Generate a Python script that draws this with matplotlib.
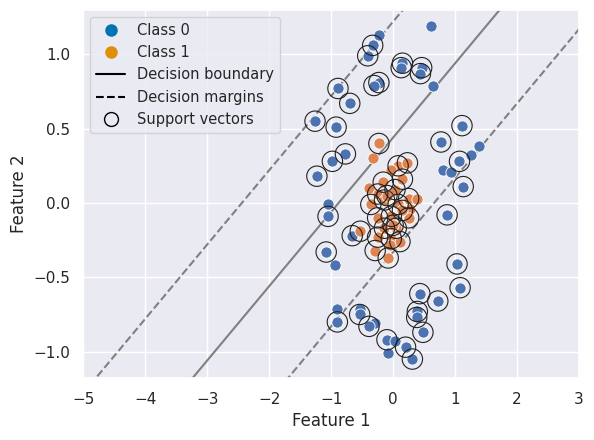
import matplotlib
matplotlib.use("Agg")
import matplotlib.pyplot as plt
import seaborn as sns
import numpy as np
from matplotlib.lines import Line2D

sns.set_theme(style="darkgrid")

# class 0: x, y, is_support_vector
c0_x = [0.61,-0.23,-0.33,-0.41,0.15,0.13,0.46,0.44,-0.23,-0.31,0.64,-0.89,-0.70,-1.26,-0.92,1.11,0.77,1.39,1.25,1.07,0.80,0.93,1.13,-0.77,-0.98,-1.23,-1.05,-1.05,0.87,-0.66,-1.08,-0.93,1.03,1.08,0.43,0.72,-0.90,-0.90,-0.54,-0.54,-0.30,-0.39,0.39,0.38,0.48,-0.10,0.03,0.20,0.31,-0.08]
c0_y = [1.19,1.13,1.06,0.99,0.94,0.91,0.91,0.87,0.81,0.79,0.79,0.77,0.67,0.55,0.51,0.52,0.41,0.38,0.32,0.28,0.22,0.21,0.11,0.33,0.28,0.18,-0.01,-0.09,-0.08,-0.22,-0.33,-0.42,-0.41,-0.57,-0.61,-0.66,-0.71,-0.80,-0.71,-0.75,-0.81,-0.83,-0.73,-0.77,-0.87,-0.92,-0.93,-0.97,-1.05,-1.01]
c0_sv = [0,0,1,1,1,1,1,1,1,1,0,1,1,1,1,1,1,0,0,1,0,0,1,1,1,1,0,1,1,1,1,0,1,1,1,1,0,1,0,1,0,1,1,1,1,1,0,1,1,0]

c1_x = [-0.23,-0.33,-0.39,0.08,0.23,-0.03,0.15,-0.16,-0.25,0.03,0.25,0.38,-0.36,-0.14,0.08,0.27,-0.25,-0.03,0.25,-0.14,0.05,-0.53,-0.25,-0.03,0.11,-0.29,-0.05,-0.08,0.00,-0.10,0.15]
c1_y = [0.40,0.30,0.10,0.25,0.27,0.22,0.16,0.14,0.06,0.09,0.03,0.03,-0.01,0.02,-0.01,-0.04,-0.10,-0.09,-0.10,-0.17,-0.17,-0.19,-0.23,-0.24,-0.26,-0.32,-0.28,-0.37,-0.15,0.05,-0.05]
c1_sv = [1,0,0,1,1,0,1,1,1,1,1,0,1,1,1,0,1,1,1,1,1,1,1,1,1,1,0,1,1,1,1]

slope = 0.5
intercept_boundary = 0.44
intercept_upper = 1.22
intercept_lower = -0.33

fig, ax = plt.subplots(figsize=(5.94, 4.40), dpi=100)
ax.scatter(c0_x, c0_y, s=65, color="#4C72B0", edgecolor="white", linewidth=0.6, zorder=3)
ax.scatter(c1_x, c1_y, s=65, color="#DD8452", edgecolor="white", linewidth=0.6, zorder=3)

svx = [x for x, s in zip(c0_x + c1_x, c0_sv + c1_sv) if s]
svy = [y for y, s in zip(c0_y + c1_y, c0_sv + c1_sv) if s]
ax.scatter(svx, svy, s=215, facecolors="none", edgecolors="#222222", linewidth=0.8, zorder=4)

xs = np.array([-5, 3])
ax.plot(xs, slope * xs + intercept_boundary, color="gray", lw=1.5, zorder=2)
ax.plot(xs, slope * xs + intercept_upper, color="gray", lw=1.5, ls="--", zorder=2)
ax.plot(xs, slope * xs + intercept_lower, color="gray", lw=1.5, ls="--", zorder=2)

ax.set_xlim(-5, 3)
ax.set_ylim(-1.18, 1.3)
ax.set_xlabel("Feature 1")
ax.set_ylabel("Feature 2")

handles = [
    Line2D([], [], marker="o", ls="", color="#0173b2", markersize=8, label="Class 0"),
    Line2D([], [], marker="o", ls="", color="#de8f05", markersize=8, label="Class 1"),
    Line2D([], [], color="black", lw=1.5, label="Decision boundary"),
    Line2D([], [], color="black", lw=1.5, ls="--", label="Decision margins"),
    Line2D([], [], marker="o", ls="", markerfacecolor="none", markeredgecolor="black", markersize=10, label="Support vectors"),
]
ax.legend(handles=handles, loc="upper left", frameon=True, fontsize=10.5)
fig.subplots_adjust(left=0.14, right=0.975, top=0.978, bottom=0.14)
fig.savefig("out.png", dpi=100)
